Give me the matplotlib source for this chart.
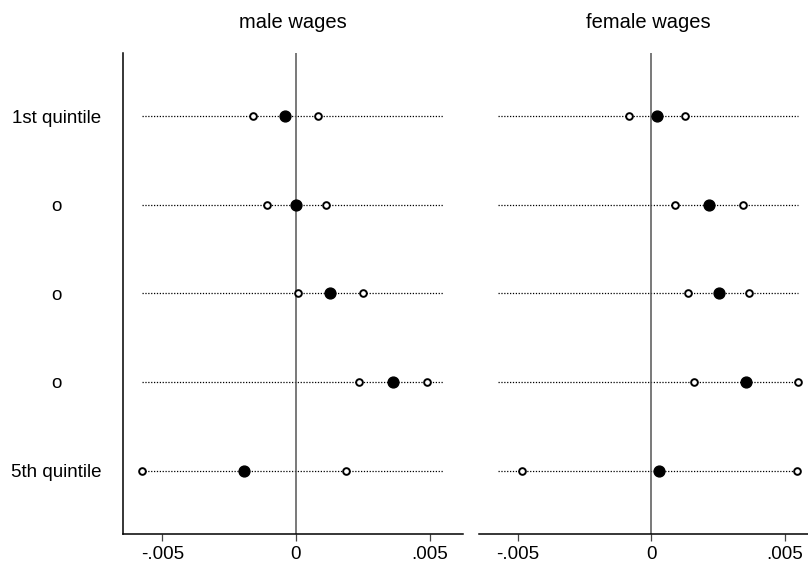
import numpy as np
import matplotlib.pyplot as plt

plt.rcParams['font.family'] = ['Liberation Sans', 'DejaVu Sans']

# Data
rows = ["1st quintile", "o", "o", "o", "5th quintile"]
titles = ["male wages", "female wages"]
male_lo = [-0.00161, -0.00109, 0.00006, 0.00235, -0.00576]
male_pt = [-0.00039, 0.00001, 0.00127, 0.00363, -0.00195]
male_hi = [0.00081, 0.00111, 0.00250, 0.00492, 0.00187]
female_lo = [-0.00084, 0.00090, 0.00139, 0.00160, -0.00484]
female_pt = [0.00021, 0.00216, 0.00252, 0.00356, 0.00030]
female_hi = [0.00126, 0.00342, 0.00365, 0.00550, 0.00546]
xticks = [-0.005, 0, 0.005]
xticklabels = ["-.005", "0", ".005"]

panels = [(male_lo, male_pt, male_hi), (female_lo, female_pt, female_hi)]
ypos = np.arange(1, len(rows) + 1)
line_min = min(min(male_lo), min(female_lo))
line_max = max(max(male_hi), max(female_hi))

fig = plt.figure(figsize=(8.08, 5.68), dpi=100)
axes = [fig.add_axes([0.1522, 0.0599, 0.4208, 0.8468]),
        fig.add_axes([0.5928, 0.0599, 0.4196, 0.8468])]

for i, (ax, (lo, pt, hi)) in enumerate(zip(axes, panels)):
    for y in ypos:
        ax.plot([line_min, line_max], [y, y], color='black', lw=0.9,
                dashes=(1, 1.3), zorder=1)
    ax.axvline(0, color='#555555', lw=1.1, zorder=2)
    ax.plot(lo, ypos, 'o', ms=4.8, mfc='white', mec='black', mew=1.4, zorder=3)
    ax.plot(hi, ypos, 'o', ms=4.8, mfc='white', mec='black', mew=1.4, zorder=3)
    ax.plot(pt, ypos, 'o', ms=7.8, color='black', zorder=4)

    ax.set_xlim(-0.00647, 0.00625)
    ax.set_ylim(5.717, 0.283)
    ax.set_xticks(xticks)
    ax.set_xticklabels(xticklabels)
    ax.tick_params(axis='x', length=5, width=0.9, color='#444444',
                   labelsize=13.5, pad=4)
    ax.set_title(titles[i], fontsize=14.5, pad=18)
    for s in ['top', 'right']:
        ax.spines[s].set_visible(False)
    ax.spines['bottom'].set_linewidth(1.1)
    ax.spines['left'].set_linewidth(1.1)
    if i == 0:
        ax.set_yticks(ypos)
        ax.set_yticklabels(rows, ha='center')
        ax.tick_params(axis='y', length=0, labelsize=13.5, pad=48)
    else:
        ax.spines['left'].set_visible(False)
        ax.set_yticks([])

plt.savefig("out.png", dpi=100)
